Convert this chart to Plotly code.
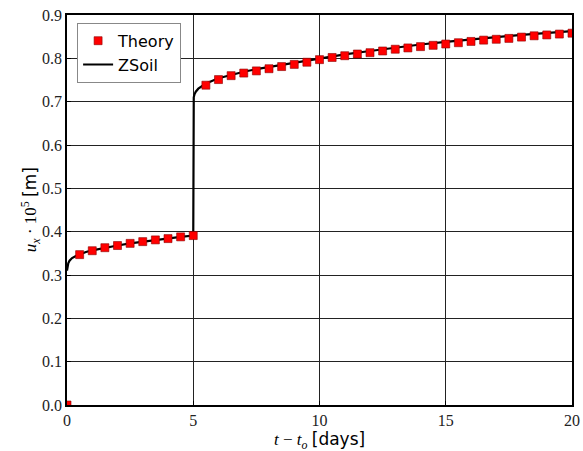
import plotly.graph_objects as go

# Analytical solution sampled every half day (displacement x 1e5 m)
theory_t = [0.0, 0.5, 1.0, 1.5, 2.0, 2.5, 3.0, 3.5, 4.0, 4.5, 5.0,
            5.5, 6.0, 6.5, 7.0, 7.5, 8.0, 8.5, 9.0, 9.5, 10.0,
            10.5, 11.0, 11.5, 12.0, 12.5, 13.0, 13.5, 14.0, 14.5, 15.0,
            15.5, 16.0, 16.5, 17.0, 17.5, 18.0, 18.5, 19.0, 19.5, 20.0]
theory_u = [0.000, 0.347, 0.356, 0.363, 0.368, 0.373, 0.377, 0.381, 0.384, 0.388, 0.391,
            0.738, 0.751, 0.760, 0.766, 0.771, 0.776, 0.781, 0.786, 0.791, 0.797,
            0.802, 0.806, 0.810, 0.813, 0.817, 0.821, 0.824, 0.827, 0.830, 0.833,
            0.836, 0.839, 0.842, 0.844, 0.846, 0.849, 0.852, 0.854, 0.856, 0.858]

# ZSoil finite element result
zsoil_t = [0.0, 0.02, 0.05, 0.1, 0.2, 0.35, 0.5, 0.75, 1.0, 1.5, 2.0, 2.5, 3.0, 3.5, 4.0, 4.5, 5.0,
           5.0, 5.02, 5.05, 5.1, 5.2, 5.35, 5.5, 6.0, 6.5, 7.0, 7.5, 8.0, 8.5, 9.0, 9.5, 10.0,
           11.0, 12.0, 13.0, 14.0, 15.0, 16.0, 17.0, 18.0, 19.0, 20.0]
zsoil_u = [0.310, 0.320, 0.327, 0.333, 0.339, 0.344, 0.348, 0.353, 0.357, 0.363, 0.368, 0.373, 0.377, 0.381, 0.385, 0.388, 0.391,
           0.700, 0.710, 0.717, 0.723, 0.730, 0.737, 0.742, 0.754, 0.762, 0.769, 0.775, 0.780, 0.785, 0.790, 0.795, 0.800,
           0.809, 0.817, 0.825, 0.832, 0.838, 0.844, 0.849, 0.854, 0.859, 0.863]

x_ticks = [0, 5, 10, 15, 20]
y_ticks = [0.0, 0.1, 0.2, 0.3, 0.4, 0.5, 0.6, 0.7, 0.8, 0.9]

x_title = "<i>t</i> − <i>t</i><sub><i>o</i></sub> <span style=\"font-family:'DejaVu Sans'\">[days]</span>"
y_title = "<i>u</i><sub><i>x</i></sub> · 10<sup>5</sup> <span style=\"font-family:'DejaVu Sans'\">[m]</span>"

SERIF = "'Liberation Serif', 'DejaVu Serif', serif"
SANS = "'DejaVu Sans', sans-serif"

fig = go.Figure()
fig.add_trace(go.Scatter(
    x=zsoil_t, y=zsoil_u, mode="lines", name="ZSoil",
    line=dict(color="black", width=2.2), legendrank=2,
))
fig.add_trace(go.Scatter(
    x=theory_t, y=theory_u, mode="markers", name="Theory",
    marker=dict(symbol="square", size=8, color="#ff0000",
                line=dict(color="#8b0000", width=0.6)),
    legendrank=1, cliponaxis=True,
))

axis_common = dict(
    showgrid=True, gridcolor="#222222", gridwidth=1,
    showline=True, linecolor="black", linewidth=1.5, mirror=True,
    ticks="inside", ticklen=4, tickcolor="black",
    tickfont=dict(family=SERIF, size=16, color="#222222"),
    zeroline=False, automargin=False,
)

fig.update_xaxes(range=[0, 20], tickvals=x_ticks,
                 ticktext=[str(v) for v in x_ticks], **axis_common)
fig.update_yaxes(range=[0, 0.9], tickvals=y_ticks,
                 ticktext=[f"{v:.1f}" for v in y_ticks], **axis_common)

# Axis titles placed as paper-anchored annotations
title_font = dict(family=SERIF, size=17, color="black")
fig.add_annotation(text=x_title, xref="paper", yref="paper",
                   x=0.5, y=-0.056, xanchor="center", yanchor="top",
                   showarrow=False, font=title_font)
fig.add_annotation(text=y_title, xref="paper", yref="paper",
                   x=-0.073, y=0.5, xanchor="center", yanchor="middle",
                   textangle=-90, showarrow=False, font=title_font)

fig.update_layout(
    width=583, height=451,
    margin=dict(l=67, r=11, t=15, b=46, autoexpand=False),
    plot_bgcolor="white", paper_bgcolor="white",
    legend=dict(
        x=0.02, y=0.98, xanchor="left", yanchor="top",
        bgcolor="white", bordercolor="#888888", borderwidth=1,
        font=dict(family=SANS, size=16, color="black"),
        traceorder="normal", tracegroupgap=0,
    ),
    showlegend=True,
)

fig.write_html("out.html")
